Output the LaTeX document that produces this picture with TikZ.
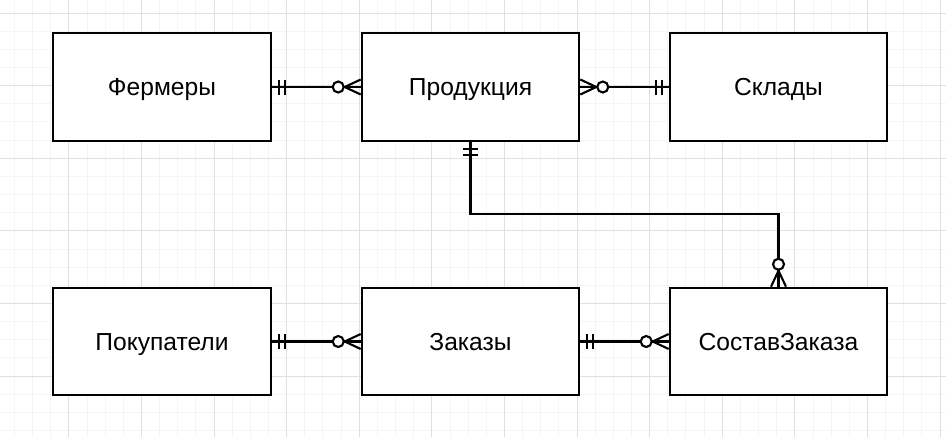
\documentclass[tikz,border=0pt]{standalone}
\usepackage{fontspec}
\setmainfont{Liberation Sans}
\usetikzlibrary{positioning}
\definecolor{gridminor}{RGB}{245,245,245}
\definecolor{gridmajor}{RGB}{224,224,224}
\tikzset{
  ent/.style={draw, line width=1.2pt, fill=white, minimum width=4.35cm, minimum height=2.15cm, inner sep=0pt, text height=10pt, text depth=0pt, font=\fontsize{14}{16}\selectfont},
  rel/.style={line width=1.2pt},
  onebar/.pic={\draw[rel] (7,-7.5) -- (7,7.5) (13,-7.5) -- (13,7.5);},
  zeromany/.pic={\draw[rel] (0,7.5) -- (16,0) -- (0,-7.5); \draw[rel, fill=white] (22.5,0) circle (5.5);}
}
\begin{document}
\begin{tikzpicture}[x=0.02cm, y=0.02cm]
\useasboundingbox (0,0) rectangle (946,-437);
\fill[white] (0,0) rectangle (946,-437);
\foreach \i in {-3,...,48} \draw[gridminor, line width=0.5pt] (68.8+18.15*\i,0) -- (68.8+18.15*\i,-437);
\foreach \j in {0,...,23} \draw[gridminor, line width=0.5pt] (0,-13-18.15*\j) -- (946,-13-18.15*\j);
\foreach \i in {-1,...,12} \draw[gridmajor, line width=0.5pt] (68.8+72.6*\i,0) -- (68.8+72.6*\i,-437);
\foreach \j in {0,...,5} \draw[gridmajor, line width=0.5pt] (0,-13-72.6*\j) -- (946,-13-72.6*\j);

\node[ent] (ferm) at (162,-87) {Фермеры};
\node[ent] (prod) at (470.5,-87) {Продукция};
\node[ent] (sklad) at (778.5,-87) {Склады};
\node[ent] (pokup) at (162,-341.5) {Покупатели};
\node[ent] (zakaz) at (470.5,-341.5) {Заказы};
\node[ent] (sostav) at (778.5,-341.5) {СоставЗаказа};

\draw[rel] (ferm) -- (prod);
\draw[rel] (prod) -- (sklad);
\draw[rel] (prod.south) -- ++(0,-72) -| (sostav.north);
\draw[rel] (pokup) -- (zakaz);
\draw[rel] (zakaz) -- (sostav);

\pic at (ferm.east) {onebar};
\pic[rotate=180] at (prod.west) {zeromany};
\pic at (prod.east) {zeromany};
\pic[rotate=180] at (sklad.west) {onebar};
\pic[rotate=-90] at (prod.south) {onebar};
\pic[rotate=90] at (sostav.north) {zeromany};
\pic at (pokup.east) {onebar};
\pic[rotate=180] at (zakaz.west) {zeromany};
\pic at (zakaz.east) {onebar};
\pic[rotate=180] at (sostav.west) {zeromany};

\end{tikzpicture}
\end{document}
